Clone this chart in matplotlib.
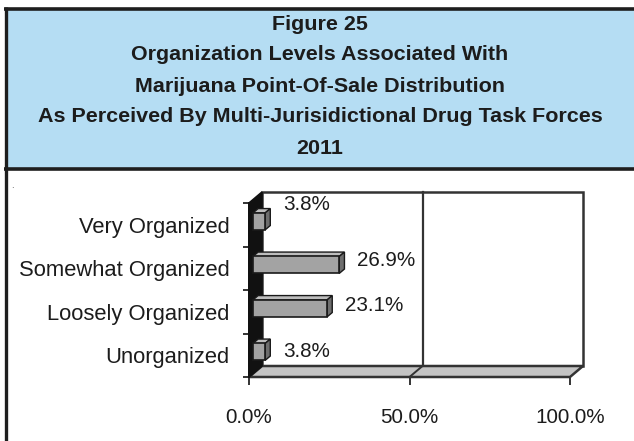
import matplotlib
matplotlib.use("Agg")
import matplotlib.pyplot as plt
from matplotlib.patches import Rectangle, Polygon

# ---------------- data ----------------
categories = ["Unorganized", "Loosely Organized", "Somewhat Organized", "Very Organized"]
values = [3.8, 23.1, 26.9, 3.8]
x_ticks = [0, 50, 100]
x_tick_labels = ["0.0%", "50.0%", "100.0%"]
title_lines = [
    "Figure 25",
    "Organization Levels Associated With",
    "Marijuana Point-Of-Sale Distribution",
    "As Perceived By Multi-Jurisidictional Drug Task Forces",
    "2011",
]

# ---------------- style ----------------
W, H = 634, 441
fam = ["Liberation Sans", "DejaVu Sans"]
text_col = "#1c1c1c"
edge_col = "#333333"

fig = plt.figure(figsize=(W / 100, H / 100), dpi=100)
fig.patch.set_facecolor("white")

# header band and frame
band = fig.add_axes([0, 0, 1, 1], zorder=0)
band.set_xlim(0, W)
band.set_ylim(H, 0)
band.axis("off")
band.add_patch(Rectangle((7, 10), W - 7, 158, facecolor="#b5ddf3", edgecolor="none"))
band.plot([5.5, 5.5], [7, H], color="#1e1e1e", lw=2.4, solid_capstyle="butt")
band.plot([4, W], [8.5, 8.5], color="#1e1e1e", lw=2.6, solid_capstyle="butt")
band.plot([4, W], [168.5, 168.5], color="#1e1e1e", lw=2.6, solid_capstyle="butt")
band.text(12, 186, ".", fontsize=6, color="#333333", ha="center", va="center")

title_y0, title_dy = 24, 31
for i, line in enumerate(title_lines):
    band.text(320, title_y0 + i * title_dy, line, family=fam, fontweight="bold",
              fontsize=15.45, color=text_col, ha="center", va="center")

# ---------------- 3D-looking bar chart ----------------
ax = fig.add_axes([249 / W, 64 / H, 321 / W, 174 / H], zorder=1)
ax.set_xlim(0, 100)
ax.set_ylim(0, len(categories))
ax.patch.set_visible(False)
for s in ax.spines.values():
    s.set_visible(False)

# depth offset (in data units) of the back wall relative to the front plane
DX = 13 * 100 / 321
DY = 11 * len(categories) / 174
n = len(categories)

# back wall
ax.add_patch(Rectangle((DX, DY), 100, n, facecolor="white", edgecolor=edge_col,
                       lw=1.8, clip_on=False, zorder=1))
# gridline on back wall and floor
for t in x_ticks[1:-1]:
    ax.plot([t + DX, t + DX], [DY, n + DY], color=edge_col, lw=1.6, clip_on=False, zorder=2)
# floor
ax.add_patch(Polygon([(0, 0), (100, 0), (100 + DX, DY), (DX, DY)], closed=True,
                     facecolor="#c4c4c4", edgecolor=edge_col, lw=1.8, clip_on=False, zorder=3))
for t in x_ticks[1:-1]:
    ax.plot([t, t + DX], [0, DY], color=edge_col, lw=1.4, clip_on=False, zorder=4)
# left wall
ax.add_patch(Polygon([(0, 0), (DX, DY), (DX, n + DY), (0, n)], closed=True,
                     facecolor="#111111", edgecolor="#111111", lw=1.2, clip_on=False, zorder=4))
ax.plot([0, 0], [0, n], color="#111111", lw=1.4, clip_on=False, zorder=5)

# bars
f1, f2, h = 0.3, 0.7, 0.195
label_nudge = [0, -3, -4, -17]   # vertical label offsets (pixels)
for i, (cat, v) in enumerate(zip(categories, values)):
    c = i + 0.5
    x0f, y0f = f1 * DX, f1 * DY
    x0b, y0b = f2 * DX, f2 * DY
    top = Polygon([(x0f, c + h + y0f), (v + x0f, c + h + y0f), (v + x0b, c + h + y0b), (x0b, c + h + y0b)],
                  closed=True, facecolor="#bdbdbd", edgecolor="#1a1a1a", lw=1.0, clip_on=False, zorder=6)
    side = Polygon([(v + x0f, c - h + y0f), (v + x0b, c - h + y0b), (v + x0b, c + h + y0b), (v + x0f, c + h + y0f)],
                   closed=True, facecolor="#6e6e6e", edgecolor="#1a1a1a", lw=1.0, clip_on=False, zorder=6)
    front = Rectangle((x0f, c - h + y0f), v, 2 * h, facecolor="#a3a3a3", edgecolor="#1a1a1a",
                      lw=1.2, clip_on=False, zorder=7)
    for p in (top, side, front):
        ax.add_patch(p)
    ax.annotate(f"{v:.1f}%", xy=(v + x0b, c + y0f), xytext=(13, -label_nudge[i]),
                textcoords="offset pixels", ha="left", va="center", family=fam,
                fontsize=14.9, color=text_col, zorder=8, annotation_clip=False)

# axes ticks
ax.set_xticks(x_ticks)
ax.set_xticklabels(x_tick_labels, family=fam, fontsize=14.9, color=text_col)
ax.tick_params(axis="x", direction="out", length=6, width=1.2, color="#111111", pad=16.5)
ax.set_yticks(range(n + 1))
ax.set_yticklabels([])
ax.set_yticks([i + 0.5 for i in range(n)], minor=True)
ax.set_yticklabels(categories, minor=True, family=fam, fontsize=15.8, color=text_col)
ax.tick_params(axis="y", which="major", direction="out", length=4, width=1.2, color="#111111")
ax.tick_params(axis="y", which="minor", length=0, pad=14.2)

fig.savefig("out.png", dpi=100)
